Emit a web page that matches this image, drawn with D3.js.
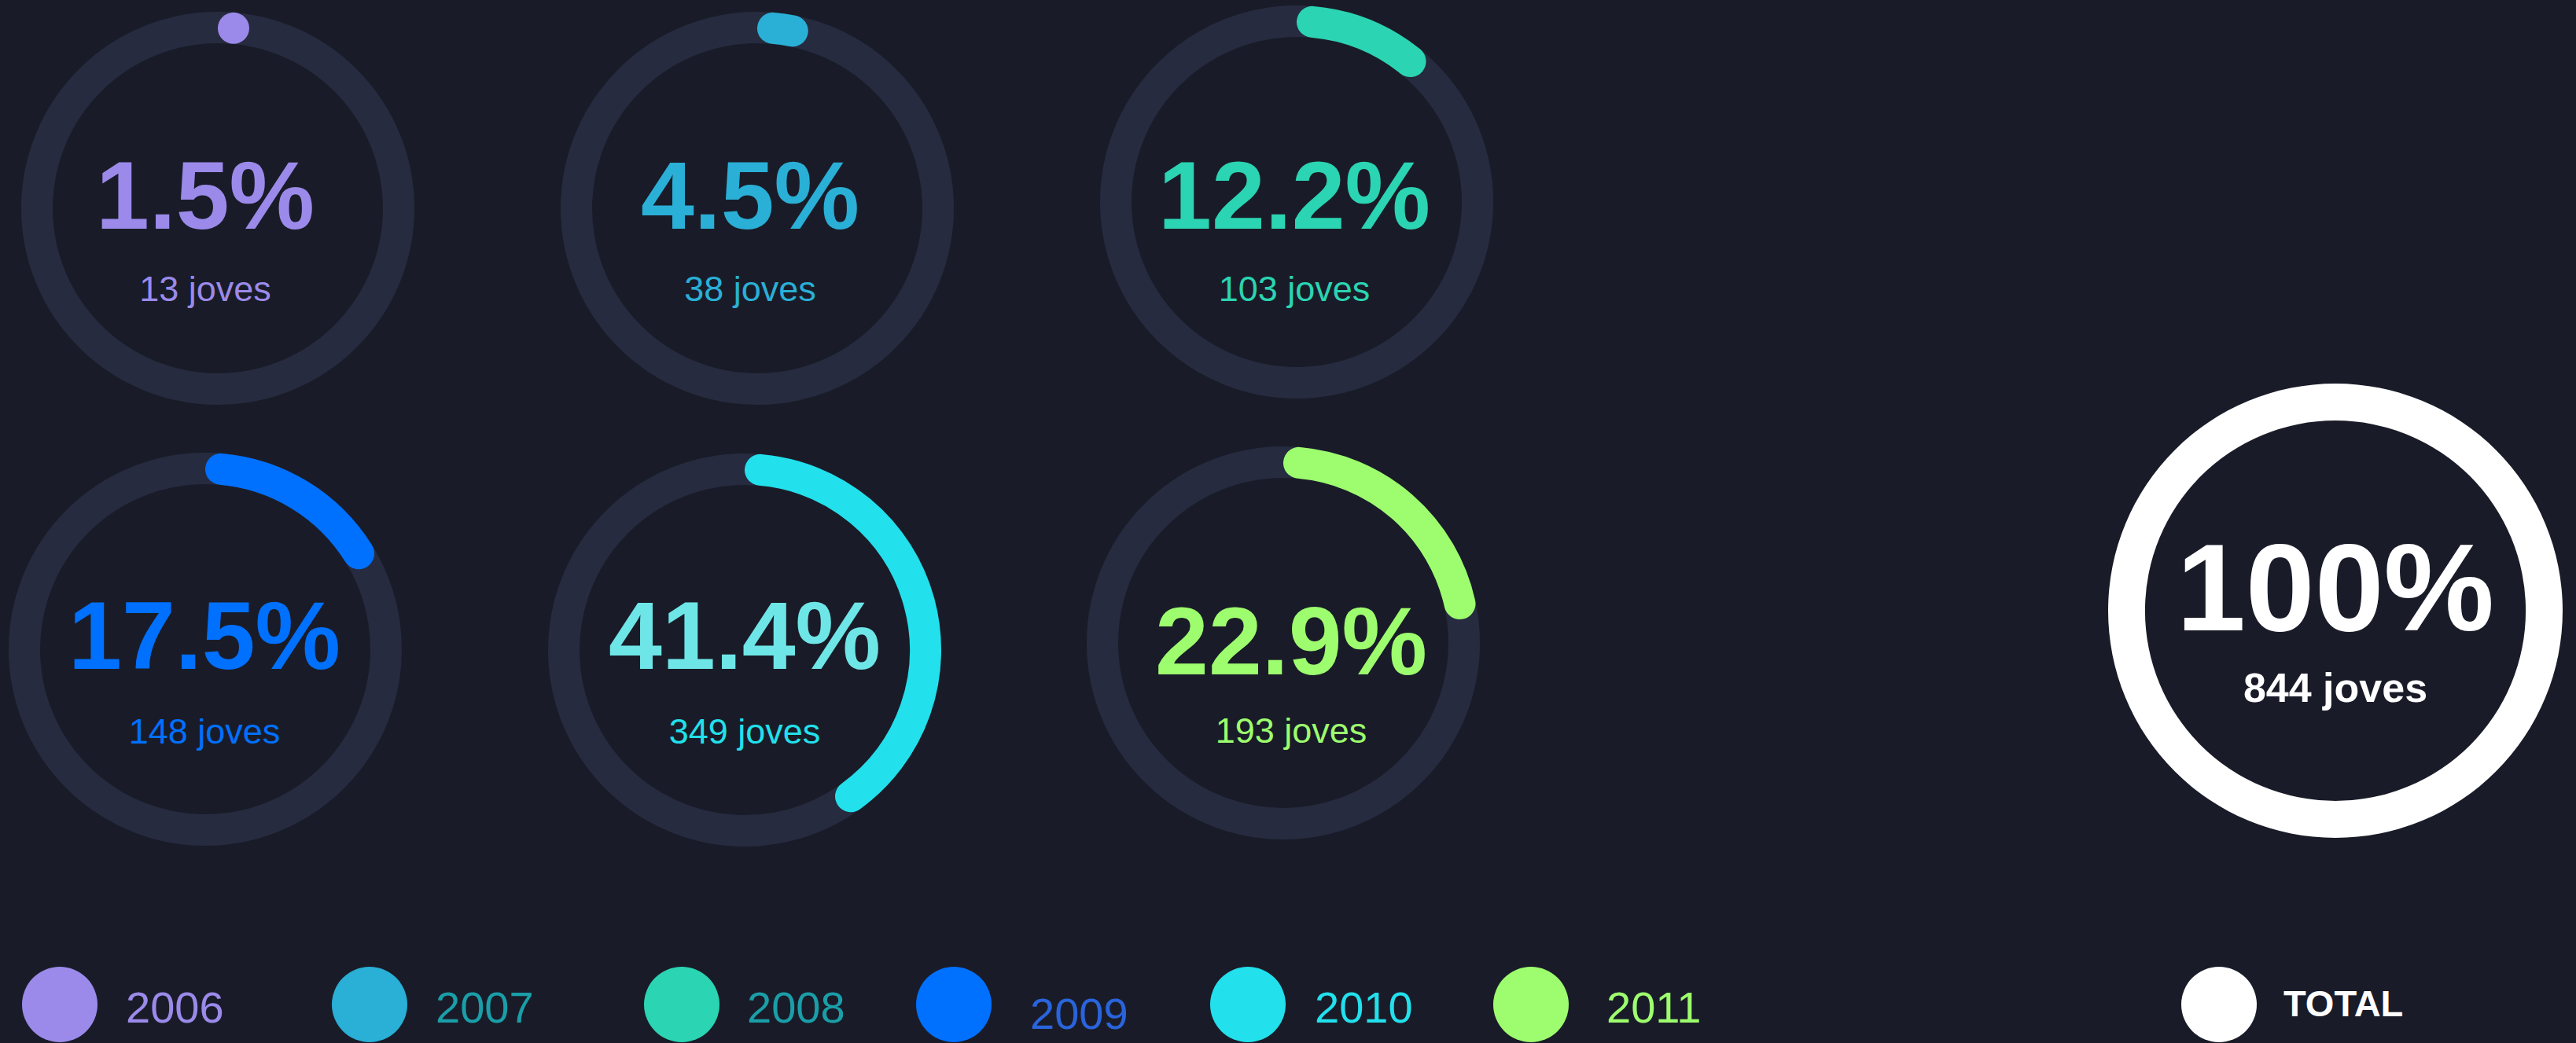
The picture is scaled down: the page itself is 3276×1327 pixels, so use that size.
<!DOCTYPE html>
<html>
<head>
<meta charset="utf-8">
<script src="https://cdn.jsdelivr.net/npm/d3@7"></script>
<style>
    html, body { margin: 0; padding: 0; background: #191c28; }
    svg { display: block; }
</style>
</head>
<body>
<div id="chart"></div>
<script>
// data
const years = ["2006", "2007", "2008", "2009", "2010", "2011"];
const percents = [1.5, 4.5, 12.2, 17.5, 41.4, 22.9];
const counts = [13, 38, 103, 148, 349, 193];
const totalLabel = "TOTAL";
const totalPercent = 100;
const totalCount = 844;

// colours
const arcColors = ["#9b8aea", "#2aafd6", "#2bd4b2", "#0070ff", "#22e0ec", "#9dfd6e"];
const pctTextColors = ["#9b8aea", "#2aafd6", "#2bd4b2", "#0070ff", "#6ee6e8", "#9dfd6e"];
const legendTextColors = ["#9b8aea", "#1a9ea8", "#1a9ea8", "#2a64dc", "#22e0ec", "#9dfd6e"];
const BG = "#191c28";
const TRACK = "#262b3f";

// layout (hand placed, like the original)
const WIDTH = 3276, HEIGHT = 1327;
const ringCenters = [[277, 265], [963, 265], [1649, 257], [261, 826], [947, 827], [1632, 818]];
const labelX = [261, 954, 1646, 260, 947, 1642];
const pctBaseline = [291, 291, 291, 851, 851, 858];
const subBaseline = [383, 383, 383, 946, 946, 945];
const legendCircleX = [76, 470, 867, 1213, 1587, 1947];
const legendTextX = [160, 554, 950, 1310, 1672, 2043];
const legendTextY = [1301, 1301, 1301, 1309, 1301, 1301];

const RING_R = 230, RING_W = 40;
const TOTAL_CX = 2970, TOTAL_CY = 777, TOTAL_R = 265.5, TOTAL_W = 47;

const FONT = "'Liberation Sans', Arial, Helvetica, sans-serif";

const angle = d3.scaleLinear().domain([0, 100]).range([0, 2 * Math.PI]);
const fmtPct = d3.format(".1f");

const svg = d3.select("#chart")
    .append("svg")
    .attr("width", WIDTH)
    .attr("height", HEIGHT);

svg.append("rect").attr("width", WIDTH).attr("height", HEIGHT).attr("fill", BG);

// centre-line arc with round caps, caps kept inside [0, value]
function capArc(r, value, strokeW) {
    const cap = (strokeW / 2) / r;
    const a0 = cap;
    const a1 = Math.max(a0, angle(value) - cap);
    const p = d3.path();
    p.arc(0, 0, r, a0 - Math.PI / 2, a1 - Math.PI / 2);
    p.lineTo(r * Math.cos(a1 - Math.PI / 2), r * Math.sin(a1 - Math.PI / 2));
    return p.toString();
}

const rings = svg.append("g");

years.forEach((year, i) => {
    const [cx, cy] = ringCenters[i];
    const g = rings.append("g");

    g.append("circle")
        .attr("cx", cx)
        .attr("cy", cy)
        .attr("r", RING_R)
        .attr("fill", "none")
        .attr("stroke", TRACK)
        .attr("stroke-width", RING_W);

    g.append("path")
        .attr("d", capArc(RING_R, percents[i], RING_W))
        .attr("transform", `translate(${cx},${cy})`)
        .attr("fill", "none")
        .attr("stroke", arcColors[i])
        .attr("stroke-width", RING_W)
        .attr("stroke-linecap", "round");

    g.append("text")
        .attr("x", labelX[i])
        .attr("y", pctBaseline[i])
        .attr("text-anchor", "middle")
        .attr("font-family", FONT)
        .attr("font-weight", 700)
        .attr("font-size", 122)
        .attr("fill", pctTextColors[i])
        .text(fmtPct(percents[i]) + "%");

    g.append("text")
        .attr("x", labelX[i])
        .attr("y", subBaseline[i])
        .attr("text-anchor", "middle")
        .attr("font-family", FONT)
        .attr("font-size", 45)
        .attr("fill", arcColors[i])
        .text(counts[i] + " joves");
});

// total ring
const totalG = svg.append("g");
totalG.append("path")
    .attr("d", d3.arc()({
        innerRadius: TOTAL_R - TOTAL_W / 2,
        outerRadius: TOTAL_R + TOTAL_W / 2,
        startAngle: 0,
        endAngle: angle(totalPercent)
    }))
    .attr("transform", `translate(${TOTAL_CX},${TOTAL_CY})`)
    .attr("fill", "#ffffff");

totalG.append("text")
    .attr("x", TOTAL_CX)
    .attr("y", 802)
    .attr("text-anchor", "middle")
    .attr("font-family", FONT)
    .attr("font-weight", 700)
    .attr("font-size", 158)
    .attr("fill", "#ffffff")
    .text(totalPercent + "%");

totalG.append("text")
    .attr("x", TOTAL_CX)
    .attr("y", 893)
    .attr("text-anchor", "middle")
    .attr("font-family", FONT)
    .attr("font-weight", 700)
    .attr("font-size", 52)
    .attr("fill", "#ffffff")
    .text(totalCount + " joves");

// legend
const legend = svg.append("g");
years.forEach((year, i) => {
    legend.append("circle")
        .attr("cx", legendCircleX[i])
        .attr("cy", 1278)
        .attr("r", 48)
        .attr("fill", arcColors[i]);
    legend.append("text")
        .attr("x", legendTextX[i])
        .attr("y", legendTextY[i])
        .attr("font-family", FONT)
        .attr("font-size", 56)
        .attr("fill", legendTextColors[i])
        .text(year);
});

legend.append("circle")
    .attr("cx", 2822)
    .attr("cy", 1278)
    .attr("r", 48)
    .attr("fill", "#ffffff");
legend.append("text")
    .attr("x", 2904)
    .attr("y", 1293)
    .attr("font-family", FONT)
    .attr("font-weight", 700)
    .attr("font-size", 47)
    .attr("fill", "#ffffff")
    .text(totalLabel);
</script>
</body>
</html>
